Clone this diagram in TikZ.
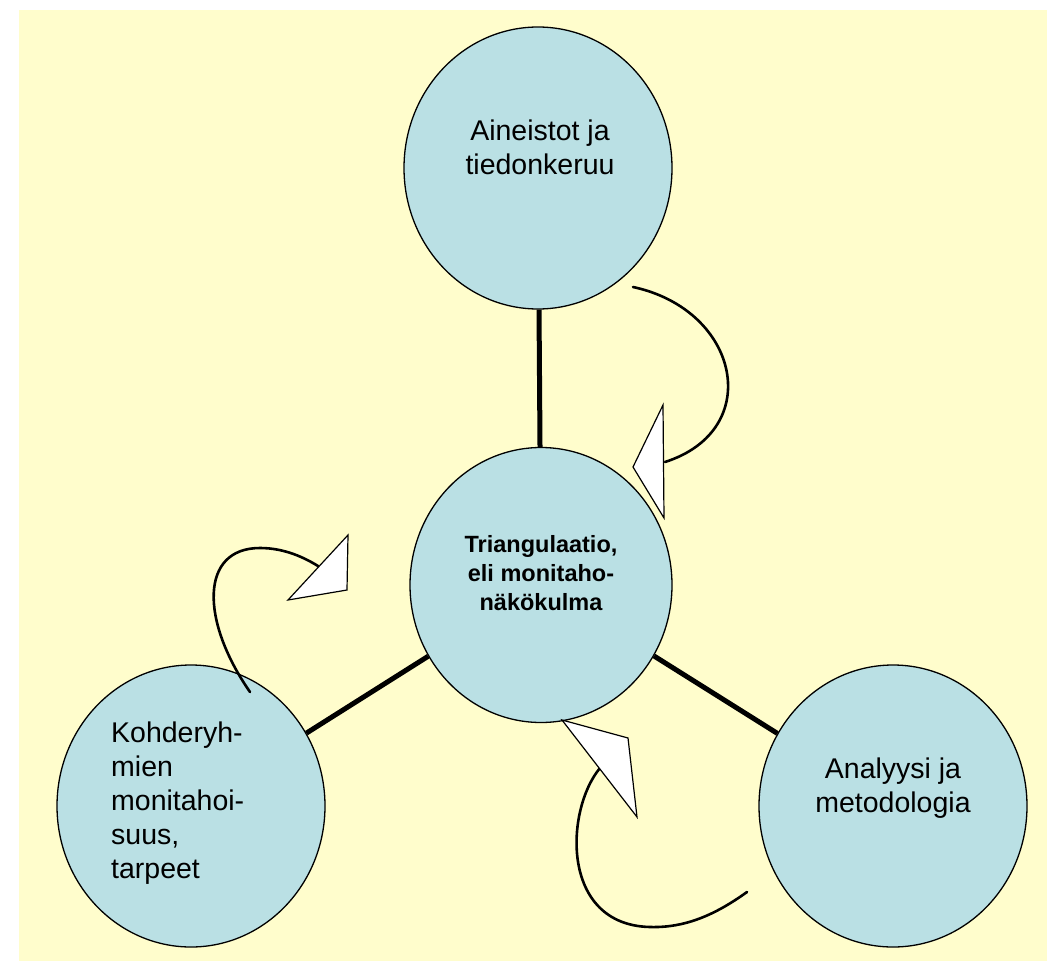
\documentclass[tikz,border=0pt]{standalone}
\usepackage{fontspec}
\setmainfont{Liberation Sans}
\usetikzlibrary{shapes.geometric}
\definecolor{paper}{RGB}{255,253,204}
\definecolor{bubblefill}{RGB}{186,224,228}

\tikzset{
  bubble/.style={ellipse, draw, fill=bubblefill, line width=1.3pt,
    minimum width=268pt, minimum height=282pt, inner sep=0pt},
  bubbletext/.style={inner sep=0pt, font=\fontsize{28.5}{34}\selectfont},
  hubtext/.style={inner sep=0pt, align=center, font=\fontsize{23.5}{29}\selectfont\bfseries},
  spoke/.style={line width=5pt},
  swirl/.style={line width=2.6pt, line cap=round},
  tiphead/.style={draw, fill=white, line width=1.2pt, line join=miter},
}

\begin{document}
\begin{tikzpicture}[x=1pt, y=-1pt]

\useasboundingbox (0,0) rectangle (1047,961);
\fill[paper] (19,10) rectangle (1047,961);

% the four circles
\node[bubble] (data) at (538,168) {};
\node[bubble, minimum width=262pt, minimum height=275pt] (hub) at (541,585) {};
\node[bubble] (groups) at (191,806) {};
\node[bubble] (method) at (893,806) {};

\node[bubbletext, align=center, anchor=north] (datatext) at (540,120) {Aineistot ja\\tiedonkeruu};
\node[hubtext, anchor=north] (hubtxt) at (541,535) {Triangulaatio,\\eli monitaho-\\näkökulma};
\node[bubbletext, align=left, anchor=north west] (groupstext) at (111,722) {Kohderyh-\\mien\\monitahoi-\\suus,\\tarpeet};
\node[bubbletext, align=center, anchor=north] (methodtext) at (893,758) {Analyysi ja\\metodologia};

% spokes
\draw[spoke] (hub) -- (data);
\draw[spoke] (hub) -- (groups);
\draw[spoke] (hub) -- (method);

% turning arrows
\coordinate (a1) at (633,287);
\coordinate (b1) at (665,462);
\draw[swirl] (a1) .. controls (740,310) and (765,430) .. (b1);
\draw[tiphead] (663,405) -- (633,467) -- (664,518) -- cycle;

\coordinate (a2) at (250,692);
\coordinate (b2) at (318,566);
\draw[swirl] (a2) .. controls (200,620) and (200,548) .. (260,548)
  .. controls (285,548) and (305,558) .. (b2);
\draw[tiphead] (348,535) -- (347,590) -- (288,600) -- cycle;

\coordinate (a3) at (747,892);
\coordinate (b3) at (600,768);
\draw[swirl] (a3) .. controls (715,915) and (685,928) .. (650,927)
  .. controls (560,925) and (565,810) .. (b3);
\draw[tiphead] (562,720) -- (628,738) -- (637,817) -- cycle;

\end{tikzpicture}
\end{document}
